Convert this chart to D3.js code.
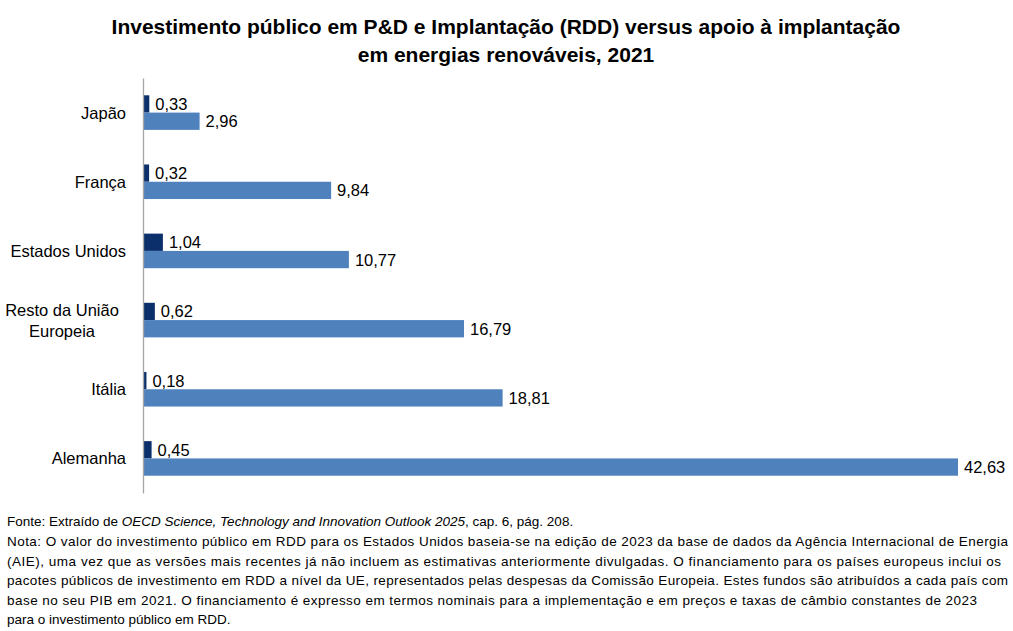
<!DOCTYPE html>
<html>
<head>
<meta charset="utf-8">
<script src="https://cdn.jsdelivr.net/npm/d3@7"></script>
<style>
  body { margin: 0; background: #fff; }
  svg { display: block; }
</style>
</head>
<body>
<svg id="chart" width="1013" height="631"></svg>
<script>
// data
const categories = ["Japão", "França", "Estados Unidos", "Resto da União Europeia", "Itália", "Alemanha"];
const rdd = [0.33, 0.32, 1.04, 0.62, 0.18, 0.45];
const implantacao = [2.96, 9.84, 10.77, 16.79, 18.81, 42.63];
const titleLines = [
  "Investimento público em P&D e Implantação (RDD) versus apoio à implantação",
  "em energias renováveis, 2021"
];
const noteLines = [
  "Nota: O valor do investimento público em RDD para os Estados Unidos baseia-se na edição de 2023 da base de dados da Agência Internacional de Energia",
  "(AIE), uma vez que as versões mais recentes já não incluem as estimativas anteriormente divulgadas. O financiamento para os países europeus inclui os",
  "pacotes públicos de investimento em RDD a nível da UE, representados pelas despesas da Comissão Europeia. Estes fundos são atribuídos a cada país com",
  "base no seu PIB em 2021. O financiamento é expresso em termos nominais para a implementação e em preços e taxas de câmbio constantes de 2023",
  "para o investimento público em RDD."
];
const noteWidths = [1001, 994, 1001, 970, null];

const font = "'Liberation Sans', Arial, sans-serif";
const fmt = v => d3.format(".2f")(v).replace(".", ",");

const svg = d3.select("#chart");

const data = categories.map((c, i) => ({ cat: c, vals: [{ k: "rdd", v: rdd[i] }, { k: "impl", v: implantacao[i] }] }));

const x = d3.scaleLinear().domain([0, d3.max(implantacao)]).range([143, 958]);
const y = d3.scaleBand().domain(categories).range([78, 493]).paddingInner(0.5).paddingOuter(0.25);
const ySub = d3.scaleBand().domain(["rdd", "impl"]).range([0, y.bandwidth()]);
const color = d3.scaleOrdinal().domain(["rdd", "impl"]).range(["#0b2f6b", "#4f81bd"]);

// title
svg.append("g").selectAll("text")
  .data(titleLines)
  .join("text")
  .attr("x", 506)
  .attr("y", (d, i) => 34 + i * 28)
  .attr("text-anchor", "middle")
  .attr("font-family", font)
  .attr("font-weight", "bold")
  .attr("font-size", 21)
  .attr("fill", "#000")
  .text(d => d);

// bars
const groups = svg.append("g").selectAll("g")
  .data(data)
  .join("g")
  .attr("transform", d => `translate(0,${y(d.cat)})`);

groups.selectAll("rect")
  .data(d => d.vals)
  .join("rect")
  .attr("x", x(0))
  .attr("y", d => ySub(d.k))
  .attr("width", d => x(d.v) - x(0))
  .attr("height", ySub.bandwidth())
  .attr("fill", d => color(d.k));

groups.selectAll("text.val")
  .data(d => d.vals)
  .join("text")
  .attr("class", "val")
  .attr("x", d => x(d.v) + 6)
  .attr("y", d => ySub(d.k) + ySub.bandwidth() / 2)
  .attr("dy", "0.36em")
  .attr("font-family", font)
  .attr("font-size", 16.5)
  .attr("fill", "#000")
  .text(d => fmt(d.v));

// vertical axis
const yAxis = svg.append("g")
  .attr("transform", `translate(${x(0)},0)`)
  .call(d3.axisLeft(y).tickSize(0).tickFormat(""));
yAxis.select(".domain").attr("stroke", "#a6a6a6").attr("stroke-width", 1.3);

// category labels
svg.append("g").selectAll("text")
  .data(categories)
  .join("text")
  .attr("font-family", font)
  .attr("font-size", 16.5)
  .attr("fill", "#000")
  .each(function(c) {
    const t = d3.select(this);
    const cy = y(c) + y.bandwidth() / 2;
    if (c === "Resto da União Europeia") {
      t.attr("text-anchor", "middle");
      ["Resto da União", "Europeia"].forEach((s, i) => {
        t.append("tspan").attr("x", 62).attr("y", cy - 10 + i * 21).attr("dy", "0.36em").text(s);
      });
    } else {
      t.attr("text-anchor", "end").attr("x", 126).attr("y", cy).attr("dy", "0.36em").text(c);
    }
  });

// footer
const foot = svg.append("g")
  .attr("font-family", font)
  .attr("font-size", 13.5)
  .attr("fill", "#000");

const src = foot.append("text").attr("x", 7).attr("y", 526);
src.append("tspan").text("Fonte:  Extraído de ");
src.append("tspan").attr("font-style", "italic").text("OECD Science, Technology and Innovation Outlook 2025");
src.append("tspan").text(", cap. 6, pág. 208.");

foot.selectAll("text.note")
  .data(noteLines)
  .join("text")
  .attr("class", "note")
  .attr("x", 7)
  .attr("y", (d, i) => 546 + i * 19.6)
  .each(function(d, i) {
    if (noteWidths[i]) d3.select(this).attr("textLength", noteWidths[i]).attr("lengthAdjust", "spacing");
  })
  .text(d => d);
</script>
</body>
</html>
